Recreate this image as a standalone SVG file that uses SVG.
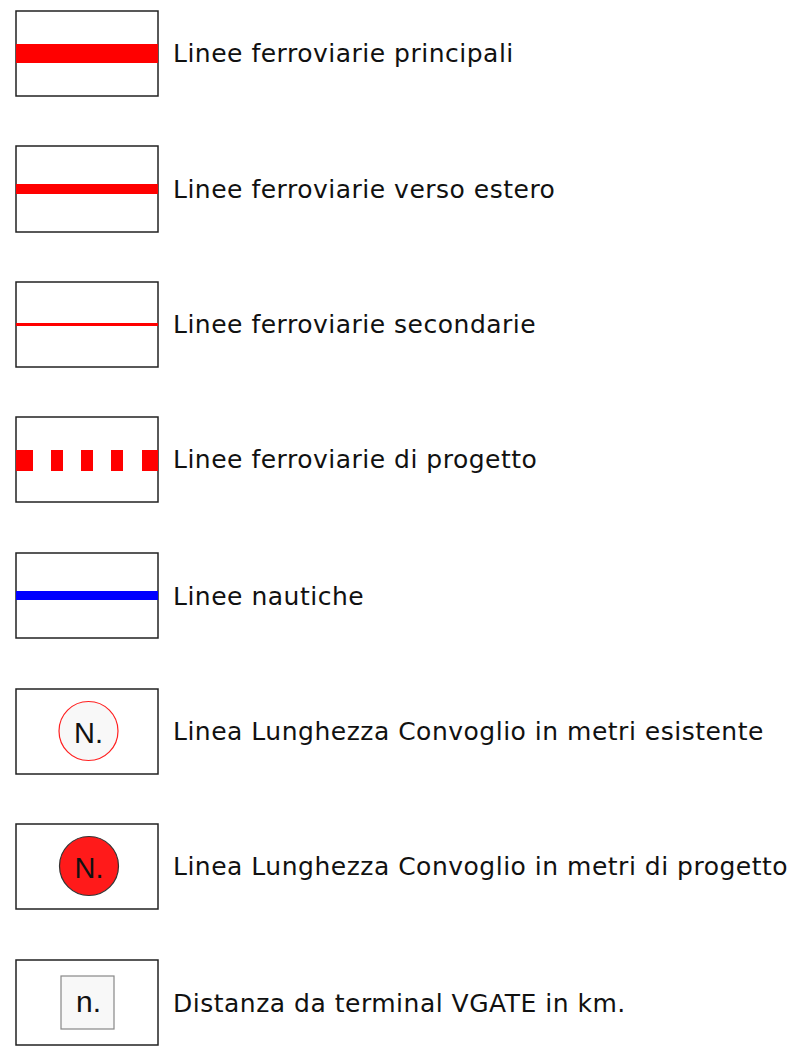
<svg xmlns="http://www.w3.org/2000/svg" width="811" height="1055" viewBox="0 0 811 1055">
<style>
.box{fill:#fff;stroke:#222;stroke-width:1.5}
.lbl{font-family:"DejaVu Sans",Verdana,sans-serif;font-size:25px;letter-spacing:0.5px;fill:#111}
.sym{font-family:"Liberation Sans",Arial,sans-serif;fill:#111;text-anchor:middle}
</style>
<rect width="811" height="1055" fill="#fff"/>
<g id="n1">
<rect class="box" x="16" y="11" width="142" height="85"/>
<rect x="16" y="44" width="142" height="19" fill="#ff0000"/>
<text class="lbl" x="173" y="61.5">Linee ferroviarie principali</text>
</g>
<g id="n2">
<rect class="box" x="16" y="146" width="142" height="86"/>
<rect x="16" y="184" width="142" height="10" fill="#ff0000"/>
<text class="lbl" x="173" y="197.5">Linee ferroviarie verso estero</text>
</g>
<g id="n3">
<rect class="box" x="16" y="282" width="142" height="85"/>
<rect x="16" y="323" width="142" height="3" fill="#ff0000"/>
<text class="lbl" x="173" y="333">Linee ferroviarie secondarie</text>
</g>
<g id="n4">
<rect class="box" x="16" y="417" width="142" height="85"/>
<g fill="#ff0000">
<rect x="16" y="450" width="17" height="21"/>
<rect x="51" y="450" width="12" height="21"/>
<rect x="81" y="450" width="12" height="21"/>
<rect x="111" y="450" width="12" height="21"/>
<rect x="142" y="450" width="16" height="21"/>
</g>
<text class="lbl" x="173" y="468">Linee ferroviarie di progetto</text>
</g>
<g id="n5">
<rect class="box" x="16" y="553" width="142" height="85"/>
<rect x="16" y="591" width="142" height="9" fill="#0000ff"/>
<text class="lbl" x="173" y="604.5">Linee nautiche</text>
</g>
<g id="n6">
<rect class="box" x="16" y="689" width="142" height="85"/>
<circle cx="88.5" cy="731" r="29.5" fill="#f8f8f8" stroke="#ff2020" stroke-width="1.2"/>
<text class="sym" x="88.5" y="742.5" font-size="29">N.</text>
<text class="lbl" x="173" y="739.5">Linea Lunghezza Convoglio in metri esistente</text>
</g>
<g id="n7">
<rect class="box" x="16" y="824" width="142" height="85"/>
<circle cx="89" cy="866" r="29.5" fill="#ff1a1a" stroke="#333" stroke-width="1.2"/>
<text class="sym" x="89" y="877.5" font-size="29">N.</text>
<text class="lbl" x="173" y="875">Linea Lunghezza Convoglio in metri di progetto</text>
</g>
<g id="n8">
<rect class="box" x="16" y="960" width="142" height="85"/>
<rect x="61" y="976" width="53" height="53" fill="#f8f8f8" stroke="#888" stroke-width="1.2"/>
<text class="sym" x="88.5" y="1011.7" font-size="30">n.</text>
<text class="lbl" x="173" y="1011.5">Distanza da terminal VGATE in km.</text>
</g>
<g id="connectors"/>
</svg>
